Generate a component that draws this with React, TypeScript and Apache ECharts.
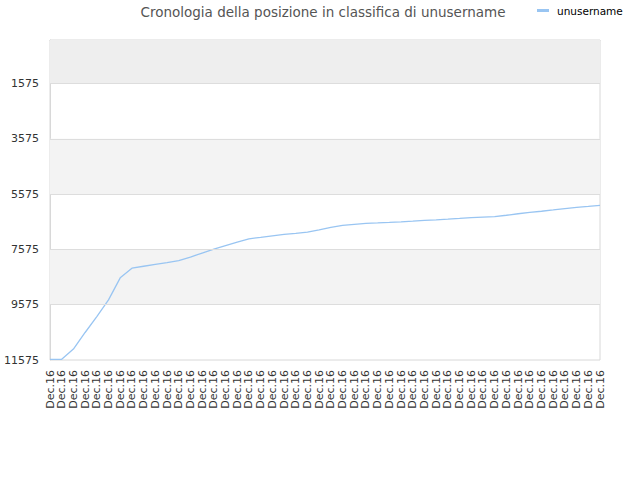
import React, { useEffect, useRef } from "react";
import * as echarts from "echarts";

const categories: string[] = Array.from({ length: 48 }, () => "Dec.16");

const positions: number[] = [
  11550, 11550, 11180, 10580, 10003, 9401, 8604, 8253, 8184, 8118,
  8053, 7984, 7850, 7705, 7564, 7434, 7311, 7191, 7137, 7082,
  7032, 6992, 6948, 6872, 6774, 6702, 6666, 6633, 6618, 6600,
  6579, 6553, 6524, 6503, 6481, 6455, 6426, 6405, 6387, 6339,
  6285, 6238, 6195, 6147, 6097, 6057, 6021, 5984,
];

const yTicks: number[] = [1575, 3575, 5575, 7575, 9575, 11575];
const yMin = 0;
const yMax = 11575;

const seriesName = "unusername";
const titleText = "Cronologia della posizione in classifica di unusername";

export default function App() {
  const ref = useRef<HTMLDivElement>(null);

  useEffect(() => {
    if (!ref.current) return;
    const chart = echarts.init(ref.current, null, { renderer: "svg" });
    const font = "DejaVu Sans";

    const bands: any[] = [
      [{ yAxis: yMin, itemStyle: { color: "#eeeeee" } }, { yAxis: yTicks[0] }],
      [{ yAxis: yTicks[1], itemStyle: { color: "#f3f3f3" } }, { yAxis: yTicks[2] }],
      [{ yAxis: yTicks[3], itemStyle: { color: "#f3f3f3" } }, { yAxis: yTicks[4] }],
    ];

    chart.setOption({
      animation: false,
      backgroundColor: "#ffffff",
      textStyle: { fontFamily: font },
      title: {
        text: titleText,
        left: 318,
        textAlign: "center",
        top: 0,
        textStyle: { fontSize: 13.5, fontWeight: "normal", color: "#555555", fontFamily: font },
      },
      legend: {
        data: [{ name: seriesName, icon: "rect" }],
        left: 532,
        top: 0,
        itemWidth: 12,
        itemHeight: 3,
        textStyle: { fontSize: 10.5, color: "#000000", fontFamily: font, padding: [0, 0, 0, 3] },
      },
      grid: {
        left: 50,
        right: 40,
        top: 40,
        bottom: 120,
        show: true,
        borderColor: "#d8d8d8",
        borderWidth: 1,
        backgroundColor: "#ffffff",
      },
      xAxis: {
        type: "category",
        data: categories,
        boundaryGap: false,
        axisLine: { show: true, lineStyle: { color: "#d8d8d8" } },
        axisTick: { show: false },
        axisLabel: {
          rotate: 90,
          interval: 0,
          fontSize: 11,
          color: "#333333",
          margin: 10,
          fontFamily: font,
        },
        splitLine: { show: false },
      },
      yAxis: {
        type: "value",
        inverse: true,
        min: yMin,
        max: yMax,
        axisLine: { show: true, lineStyle: { color: "#d8d8d8" } },
        axisTick: { show: false, customValues: yTicks },
        axisLabel: {
          customValues: yTicks,
          formatter: (v: number) => String(v),
          fontSize: 11,
          color: "#333333",
          margin: 11,
          fontFamily: font,
        },
        splitLine: { show: false },
      },
      series: [
        {
          name: seriesName,
          type: "line",
          data: positions,
          showSymbol: false,
          symbol: "none",
          lineStyle: { color: "#99c5f2", width: 1.3 },
          itemStyle: { color: "#99c5f2" },
          markArea: {
            silent: true,
            data: bands,
          },
          markLine: {
            silent: true,
            symbol: "none",
            label: { show: false },
            lineStyle: { color: "#dddddd", width: 1, type: "solid" },
            data: yTicks.slice(0, yTicks.length - 1).map((v) => ({ yAxis: v })),
          },
        },
      ],
    });

    return () => chart.dispose();
  }, []);

  return (
    <div
      ref={ref}
      style={{ position: "fixed", left: 0, top: 0, width: 640, height: 480 }}
    />
  );
}
